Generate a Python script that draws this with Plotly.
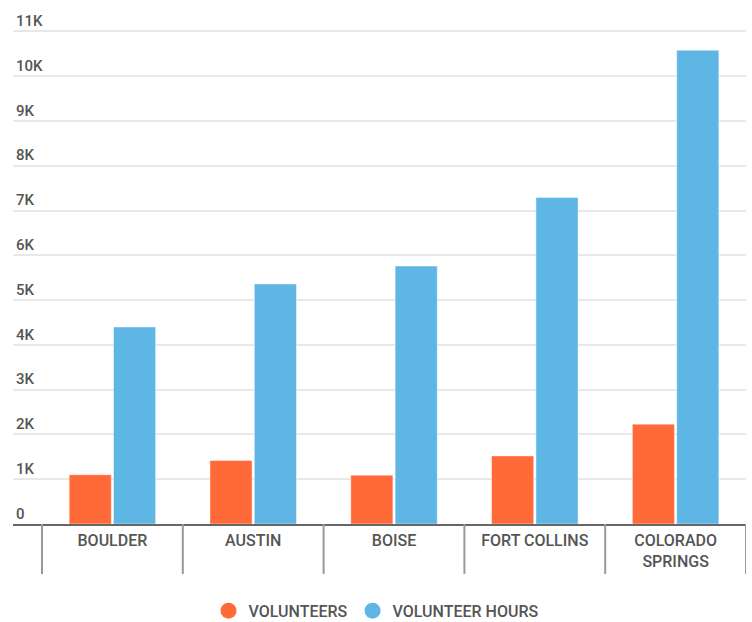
import plotly.graph_objects as go

# Volunteer activity by city
cities = ["BOULDER", "AUSTIN", "BOISE", "FORT COLLINS", "COLORADO<br>SPRINGS"]
volunteers = [1100, 1420, 1090, 1520, 2230]
volunteer_hours = [4400, 5360, 5760, 7290, 10580]
y_tick_values = [0, 1000, 2000, 3000, 4000, 5000, 6000, 7000, 8000, 9000, 10000, 11000]
y_tick_labels = ["0", "1K", "2K", "3K", "4K", "5K", "6K", "7K", "8K", "9K", "10K", "11K"]

ORANGE = "#FF6A38"
BLUE = "#5EB6E4"
TEXT = "#555555"
FONT = "Roboto"

fig = go.Figure()

fig.add_trace(go.Bar(
    x=cities, y=volunteers, name="VOLUNTEERS", showlegend=False,
    marker=dict(color=ORANGE, line=dict(color="rgba(255,255,255,0.45)", width=1)),
))
fig.add_trace(go.Bar(
    x=cities, y=volunteer_hours, name="VOLUNTEER HOURS", showlegend=False,
    marker=dict(color=BLUE, line=dict(color="rgba(255,255,255,0.45)", width=1)),
))

# Round legend markers
for name, color in [("VOLUNTEERS", ORANGE), ("VOLUNTEER HOURS", BLUE)]:
    fig.add_trace(go.Scatter(
        x=[None], y=[None], mode="markers", name=name,
        marker=dict(color=color, size=18, symbol="circle"),
    ))

# Category separators below the axis line
n = len(cities)
for i in range(n + 1):
    fig.add_shape(
        type="line", xref="x", yref="paper",
        x0=i - 0.5, x1=i - 0.5, y0=0, y1=-0.097,
        line=dict(color="#999999", width=2),
    )

fig.update_layout(
    width=752, height=622,
    margin=dict(l=13, r=6, t=9, b=98),
    paper_bgcolor="white", plot_bgcolor="white",
    font=dict(family=FONT, size=15, color=TEXT, weight=500),
    barmode="group", bargap=0.37, bargroupgap=0.05,
    legend=dict(
        orientation="h", xref="container", yref="container",
        x=0.5, xanchor="center", y=0.018, yanchor="middle",
        font=dict(family=FONT, size=16, color=TEXT, weight=500),
        itemsizing="trace", itemwidth=30, tracegroupgap=0,
    ),
    showlegend=True,
)

fig.update_xaxes(
    type="category",
    range=[-0.706, n - 0.5],
    showgrid=False,
    showline=True, linecolor="#666666", linewidth=2,
    ticks="", ticklabelstandoff=1,
    tickfont=dict(family=FONT, size=16, color=TEXT, weight=500),
)
fig.update_yaxes(
    range=[0, 11500],
    tickvals=y_tick_values, ticktext=y_tick_labels,
    ticklabelposition="inside top",
    showgrid=True, gridcolor="#E8E8E8", gridwidth=2,
    zeroline=False, showline=False, ticks="",
    tickfont=dict(family=FONT, size=15, color=TEXT, weight=500),
)

fig.write_html("out.html")
